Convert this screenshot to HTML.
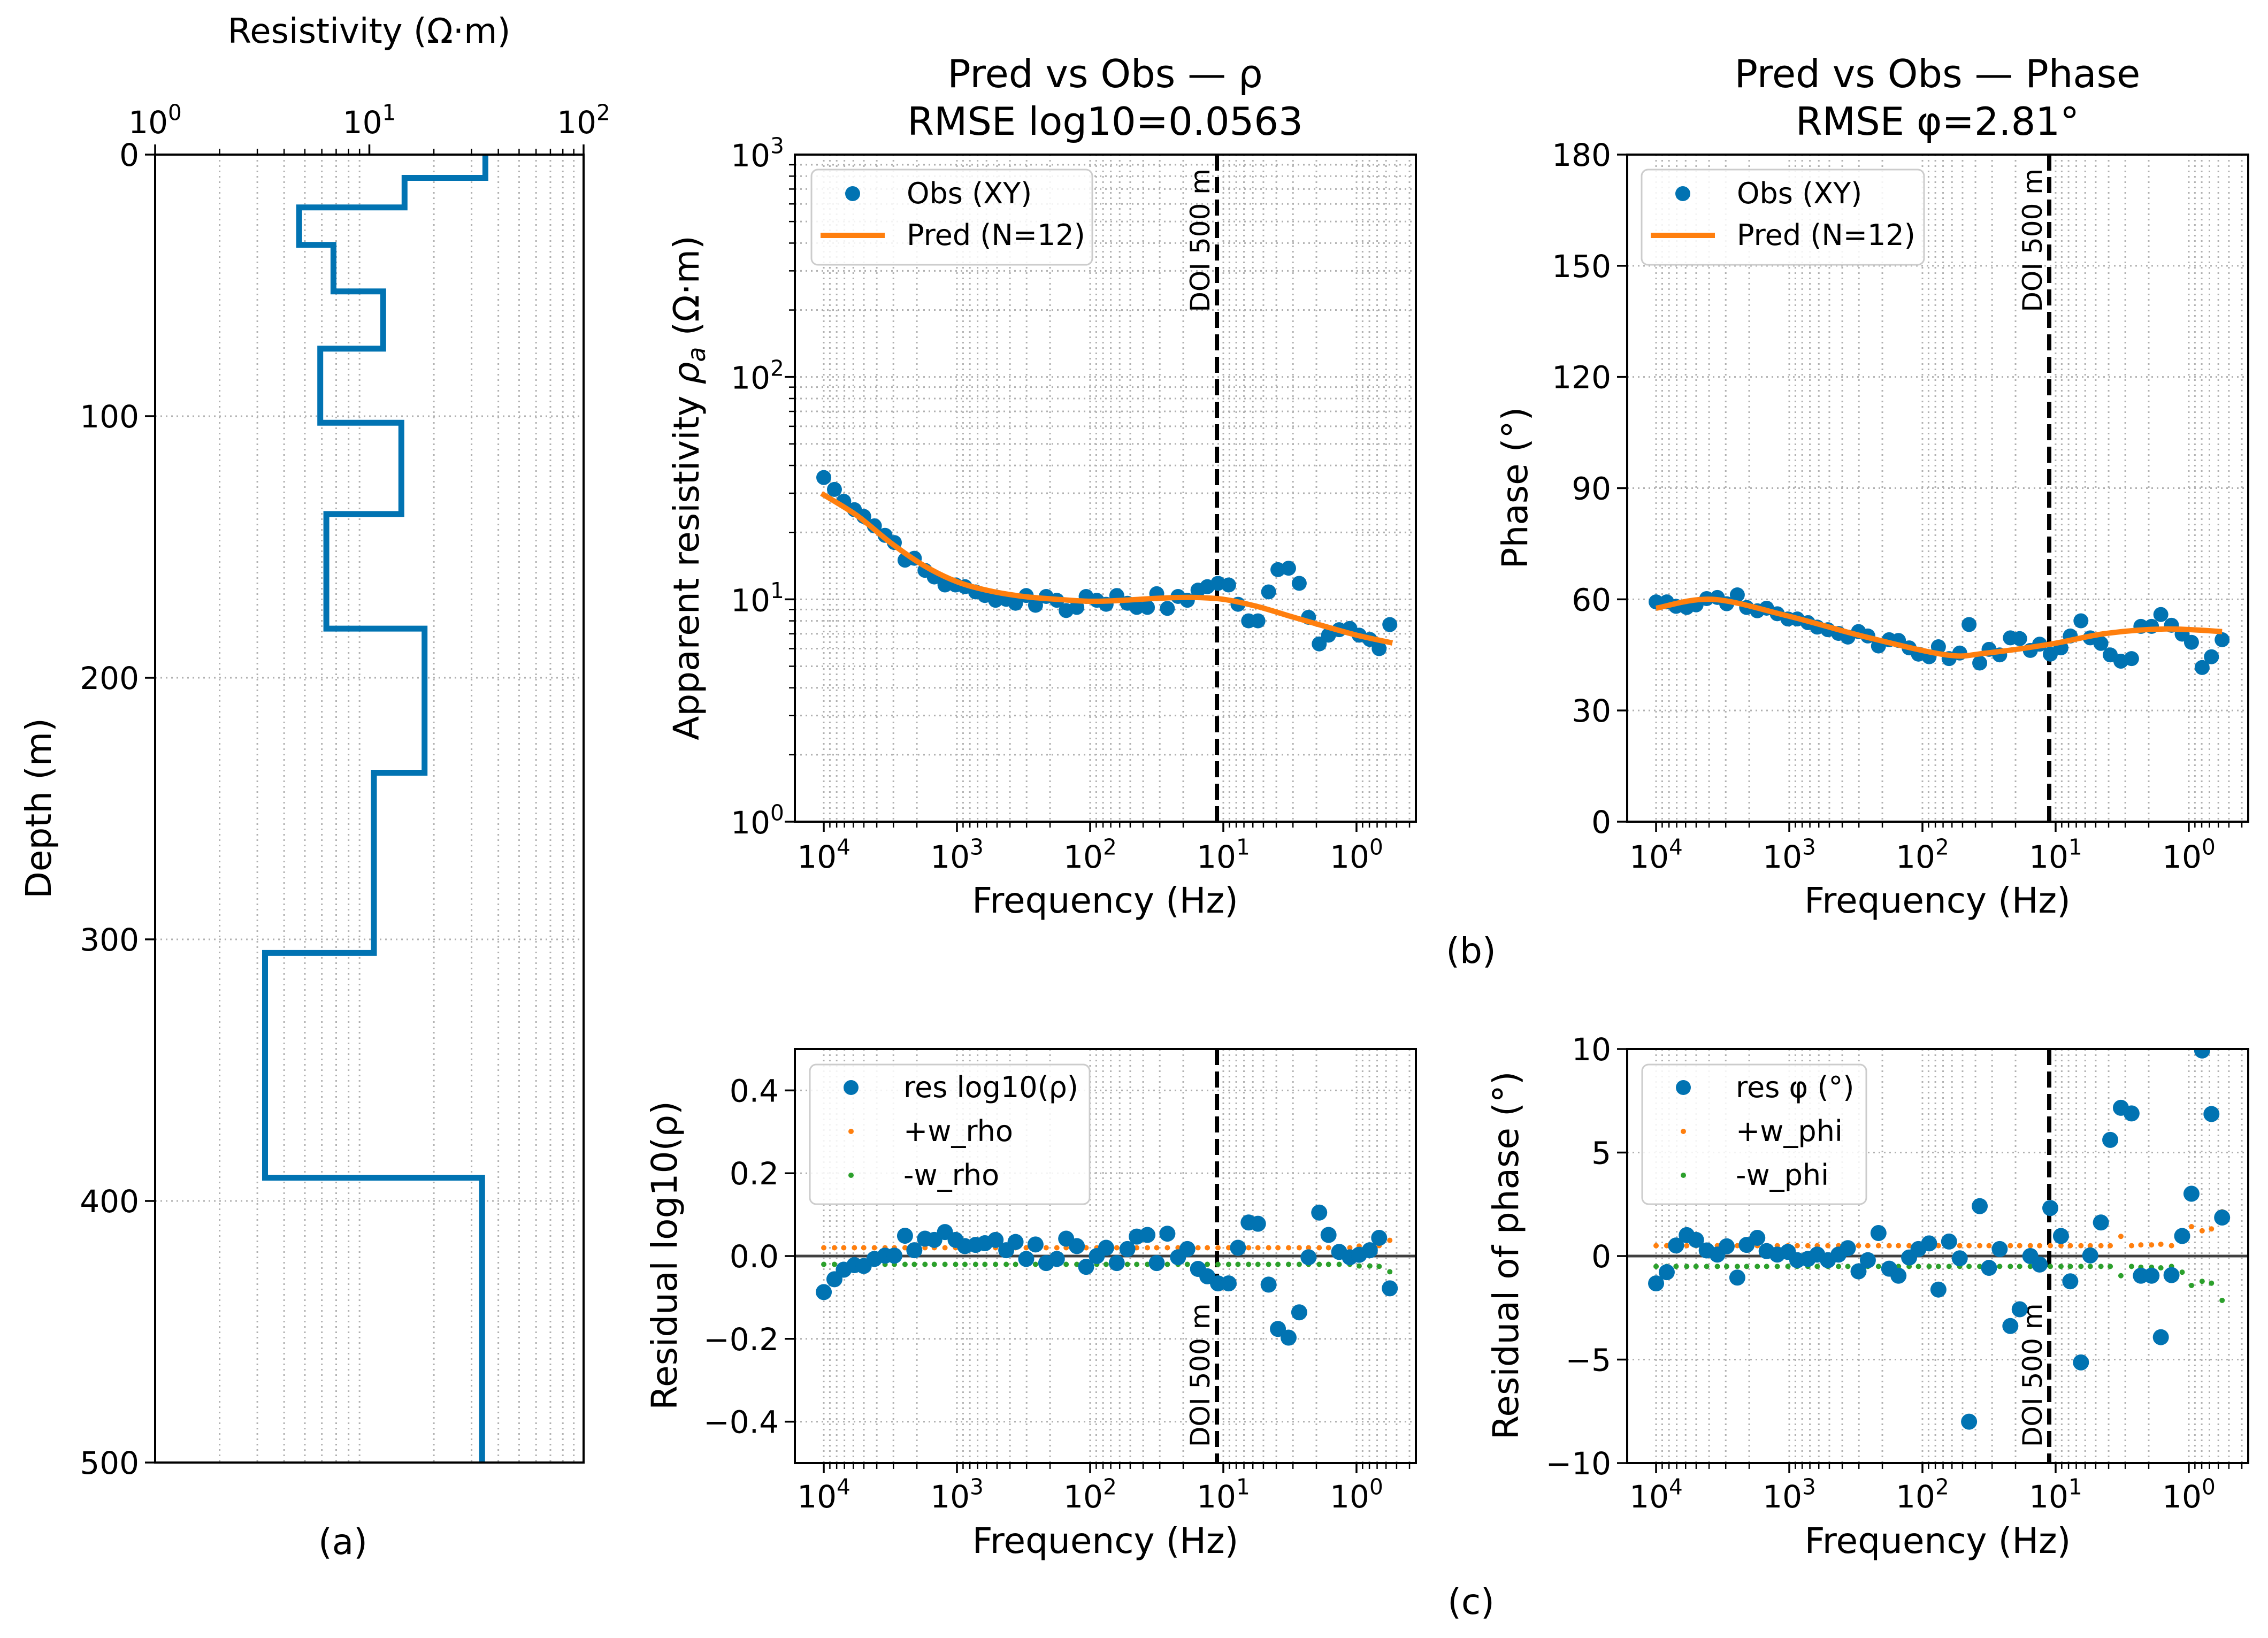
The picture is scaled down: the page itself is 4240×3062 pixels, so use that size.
<!DOCTYPE html>
<html><head><meta charset="utf-8">
<style>
html,body{margin:0;padding:0;background:#fff;}
svg{display:block;font-family:"DejaVu Sans","Liberation Sans",sans-serif;}
</style></head>
<body>
<svg id="fig" xmlns="http://www.w3.org/2000/svg" width="4240" height="3062" viewBox="0 0 4240 3062">
<rect x="0" y="0" width="4240" height="3062" fill="#fff"/>
</svg>
<script>
// ---------- DATA ----------
const logFreq=[4.00,3.92,3.85,3.77,3.70,3.62,3.54,3.47,3.39,3.32,3.24,3.17,3.09,3.01,2.94,2.86,2.79,2.71,2.63,2.56,2.48,2.41,2.33,2.25,2.18,2.10,2.03,1.95,1.88,1.80,1.72,1.65,1.57,1.50,1.42,1.34,1.27,1.19,1.12,1.04,0.96,0.89,0.81,0.74,0.66,0.59,0.51,0.43,0.36,0.28,0.21,0.13,0.05,-0.02,-0.10,-0.17,-0.25];
const rhoObs=[35.3,31.2,27.6,25.3,23.6,21.4,19.4,18.0,15.0,15.3,13.5,12.6,11.6,11.6,11.4,10.8,10.4,9.9,10.0,9.6,10.4,9.4,10.3,9.9,8.9,9.2,10.3,9.9,9.5,10.4,9.6,9.2,9.2,10.6,9.1,10.3,9.9,11.0,11.4,11.8,11.6,9.5,8.0,8.0,10.8,13.6,13.8,11.8,8.3,6.3,6.9,7.3,7.4,6.9,6.6,6.0,7.7];
const rhoPredLogF=[4.0,3.75,3.5,3.25,3.0,2.75,2.5,2.25,2.0,1.75,1.5,1.25,1.0,0.75,0.5,0.25,0.0,-0.25];
const rhoPred=[29.5,23.8,18.0,14.2,12.0,10.9,10.3,10.0,9.8,9.9,10.1,10.2,10.0,9.3,8.4,7.6,6.9,6.4];
const phaseObs=[59.3,59.3,58.1,57.8,58.5,60.2,60.5,58.8,61.2,57.8,56.9,57.6,56.1,54.7,54.7,53.7,52.5,51.8,50.8,49.8,51.3,50.1,47.4,49.1,48.9,46.9,45.2,44.5,47.2,44.0,45.5,53.2,42.8,46.5,45.0,49.6,49.4,46.2,47.9,45.2,46.9,50.1,54.2,49.6,48.1,45.0,43.3,44.0,52.7,52.7,55.9,53.0,50.6,48.4,41.6,44.5,49.1];
const phasePredLogF=[4.0,3.58,3.02,2.42,1.82,1.52,1.04,0.62,0.17,-0.25];
const phasePred=[57.6,60.0,55.6,49.8,45.0,45.5,47.9,50.8,52.0,51.3];
const resRho=[-0.087,-0.056,-0.033,-0.022,-0.024,-0.007,0.001,0.001,0.049,0.014,0.042,0.039,0.058,0.039,0.024,0.027,0.031,0.039,0.014,0.034,-0.007,0.028,-0.017,-0.007,0.042,0.024,-0.026,0.0,0.020,-0.017,0.017,0.047,0.051,-0.017,0.054,-0.003,0.017,-0.031,-0.049,-0.066,-0.066,0.020,0.081,0.078,-0.069,-0.176,-0.197,-0.136,-0.003,0.105,0.051,0.010,-0.003,0.003,0.014,0.044,-0.078];
const wRho=[0.02,0.02,0.02,0.02,0.02,0.02,0.02,0.02,0.02,0.02,0.02,0.02,0.02,0.02,0.02,0.02,0.02,0.02,0.02,0.02,0.02,0.02,0.02,0.02,0.02,0.02,0.02,0.02,0.02,0.02,0.02,0.02,0.02,0.02,0.02,0.02,0.02,0.02,0.02,0.02,0.02,0.02,0.02,0.02,0.02,0.02,0.02,0.02,0.02,0.02,0.02,0.02,0.02,0.024,0.024,0.025,0.038];
const resPhi=[-1.32,-0.78,0.51,1.01,0.78,0.27,0.07,0.47,-1.04,0.54,0.88,0.24,0.07,0.20,-0.20,-0.14,0.07,-0.20,0.07,0.38,-0.74,-0.20,1.11,-0.61,-0.95,-0.07,0.34,0.61,-1.62,0.70,-0.11,-8.0,2.41,-0.57,0.34,-3.38,-2.57,0.0,-0.41,2.32,0.97,-1.22,-5.14,0.03,1.62,5.61,7.16,6.89,-0.95,-0.95,-3.92,-0.92,0.97,3.01,9.93,6.86,1.86];
const wPhi=[0.5,0.5,0.5,0.5,0.5,0.5,0.5,0.5,0.5,0.5,0.5,0.5,0.5,0.5,0.5,0.5,0.5,0.5,0.5,0.5,0.5,0.5,0.5,0.5,0.5,0.5,0.5,0.5,0.5,0.5,0.5,0.5,0.5,0.5,0.5,0.5,0.5,0.5,0.5,0.5,0.5,0.5,0.5,0.5,0.5,0.5,0.95,0.5,0.54,0.54,0.57,0.5,0.78,1.42,1.22,1.31,2.14];
const layerBottom=[8.9,20.2,34.5,52.3,74.2,102.5,137.4,181.2,236.3,305.2,391.1,500];
const layerRho=[34.8,14.6,4.7,6.8,11.6,5.9,14.1,6.3,18.1,10.5,3.26,33.6];
const doiLogF=1.048;
const freqTicks=[4,3,2,1,0];
const rhoTicks=[0,1,2,3];
const phaseTicks=[0,30,60,90,120,150,180];
const resRhoTicks=[-0.4,-0.2,0.0,0.2,0.4];
const resRhoTickLabels=["\u22120.4","\u22120.2","0.0","0.2","0.4"];
const resPhiTicks=[-10,-5,0,5,10];
const resPhiTickLabels=["\u221210","\u22125","0","5","10"];
const depthTicks=[0,100,200,300,400,500];
const resTicksA=[0,1,2];

// ---------- HELPERS ----------
const NS="http://www.w3.org/2000/svg";
const svg=document.getElementById('fig');
const BLUE="#0173b2", ORANGE="#ff7f0e", GREEN="#2ca02c";
function el(tag,attrs,parent){const e=document.createElementNS(NS,tag);for(const k in attrs)e.setAttribute(k,attrs[k]);(parent||svg).appendChild(e);return e;}
function grp(name){const g=el('g',{});return g;}
function text(g,x,y,s,size,anchor,name,rot){
  const t=el('text',{x:x,y:y,'font-size':size,'text-anchor':anchor||'middle',fill:'#000'},g);
  if(rot)t.setAttribute('transform','rotate('+rot+' '+x+' '+y+')');
  t.textContent=s;
  
  
  return t;}
function powText(g,x,y,exp,size,name){
  const t=el('text',{x:x,y:y,'font-size':size,'text-anchor':'middle',fill:'#000'},g);
  const a=el('tspan',{},t);a.textContent='10';
  const b=el('tspan',{dy:-size*0.42,'font-size':size*0.7},t);b.textContent=String(exp);
  
  
  return t;}
const GRID={stroke:'#b0b0b0','stroke-width':3,'stroke-dasharray':'3 7',fill:'none'};
function line(g,x1,y1,x2,y2,attrs){const a=Object.assign({x1:x1,y1:y1,x2:x2,y2:y2},attrs);return el('line',a,g);}

function freqAxis(x0,x1){const lmax=4.217,lmin=-0.446;return lf=>x0+(lmax-lf)/(lmax-lmin)*(x1-x0);}
function linAxis(p0,p1,v0,v1){return v=>p0+(v-v0)/(v1-v0)*(p1-p0);}

function smoothPath(pts){
  let d='M'+pts[0][0].toFixed(1)+','+pts[0][1].toFixed(1);
  for(let i=0;i<pts.length-1;i++){
    const p0=pts[Math.max(0,i-1)],p1=pts[i],p2=pts[i+1],p3=pts[Math.min(pts.length-1,i+2)];
    const c1=[p1[0]+(p2[0]-p0[0])/6,p1[1]+(p2[1]-p0[1])/6];
    const c2=[p2[0]-(p3[0]-p1[0])/6,p2[1]-(p3[1]-p1[1])/6];
    d+=' C'+c1[0].toFixed(1)+','+c1[1].toFixed(1)+' '+c2[0].toFixed(1)+','+c2[1].toFixed(1)+' '+p2[0].toFixed(1)+','+p2[1].toFixed(1);
  }
  return d;}

function drawFreqX(g,X,top,bot,labelY,prefix){
  for(let d=-1;d<=4;d++){
    for(let m=1;m<=9;m++){
      const lf=d+Math.log10(m);
      const x=X(lf);
      if(x<X(4.217)-0.5||x>X(-0.446)+0.5)continue;
      line(g,x,top,x,bot,GRID);
      const len=m===1?19:11;
      line(g,x,bot,x,bot+len,{stroke:'#000','stroke-width':m===1?3.5:2.5});
    }
  }
  freqTicks.forEach(v=>powText(g,X(v),labelY,v,58,prefix+'-xtick-'+v));
}
function frame(g,x0,y0,x1,y1,name){
  const r=el('rect',{x:x0,y:y0,width:x1-x0,height:y1-y0,fill:'none',stroke:'#000','stroke-width':4},g);
  
  }
function doi(g,X,top,bot,textTop,name){
  const x=X(doiLogF);
  const l=line(g,x,top,x,bot,{stroke:'#000','stroke-width':8,'stroke-dasharray':'30 12'});
  
  
  let tx=x-14, ty;
  if(textTop){ty=top+26;text(g,tx,ty,'DOI 500 m',50,'end',name+'-doi-label',-90);}
  else{ty=bot-30;text(g,tx,ty,'DOI 500 m',50,'start',name+'-doi-label',-90);}
}
function legend(g,x0,y0,x1,y1,entries,name){
  const lg=el('g',{},g);
  
  
  el('rect',{x:x0,y:y0,width:x1-x0,height:y1-y0,rx:12,fill:'#fff','fill-opacity':0.85,stroke:'#cccccc','stroke-width':3},lg);
  entries.forEach(e=>{
    const cx=x0+77;
    if(e.type==='dot'){const c=el('circle',{cx:cx,cy:e.y-18,r:e.r,fill:e.color},lg);}
    else{const l=line(lg,x0+17,e.y-18,x0+137,e.y-18,{stroke:e.color,'stroke-width':10});}
    text(lg,x0+e.tx,e.y,e.label,54,'start',e.name+'-label');
  });
}

// ---------- PANEL A ----------
(function(){
  const g=grp('panel-a-resistivity-profile');
  const x0=290,x1=1091,y0=289,y1=2734;
  const X=lr=>x0+(lr-0)/(2-0)*(x1-x0);
  const Y=linAxis(y0,y1,0,500);
  for(let d=0;d<2;d++)for(let m=1;m<=9;m++){const x=X(d+Math.log10(m));if(m>1)line(g,x,y0,x,y1,GRID);line(g,x,y0,x,y0-(m===1?19:11),{stroke:'#000','stroke-width':m===1?3.5:2.5});}
  line(g,X(2),y0,X(2),y0-19,{stroke:'#000','stroke-width':3.5});
  depthTicks.forEach(v=>{const y=Y(v);if(v>0&&v<500)line(g,x0,y,x1,y,GRID);line(g,x0,y,x0-19,y,{stroke:'#000','stroke-width':3.5});
    text(g,x0-30,y+21,String(v),58,'end','depth-tick-'+v);});
  resTicksA.forEach(v=>powText(g,X(v),y0-40,v,58,'resistivity-tick-'+v));
  let d='',top=0;
  layerRho.forEach((r,i)=>{const x=X(Math.log10(r));d+=(i===0?'M':'L')+x.toFixed(1)+','+Y(top).toFixed(1)+' L'+x.toFixed(1)+','+Y(layerBottom[i]).toFixed(1)+' ';top=layerBottom[i];});
  const p=el('path',{d:d,fill:'none',stroke:BLUE,'stroke-width':11,'stroke-linejoin':'miter'},g);
  
  
  frame(g,x0,y0,x1,y1,'panel-a-frame');
  text(g,690,80,'Resistivity (\u03A9\u00B7m)',64,'middle','x-axis-title-resistivity');
  text(g,95,1511,'Depth (m)',66,'middle','y-axis-title-depth',-90);
  text(g,641,2905,'(a)',66,'middle','panel-label-a');
})();

// ---------- PANEL B1 ----------
(function(){
  const g=grp('panel-b-apparent-resistivity');
  const x0=1486,x1=2647,y0=289,y1=1536;
  const X=freqAxis(x0,x1);
  const Y=lr=>y1-(lr-0)/3*(y1-y0);
  for(let d=0;d<3;d++)for(let m=1;m<=9;m++){const y=Y(d+Math.log10(m));if(m>1)line(g,x0,y,x1,y,GRID);line(g,x0,y,x0-(m===1?19:11),y,{stroke:'#000','stroke-width':m===1?3.5:2.5});}
  [1,2].forEach(v=>line(g,x0,Y(v),x1,Y(v),GRID));
  rhoTicks.forEach(v=>powText(g,x0-70,Y(v)+22,v,58,'rho-ytick-'+v));
  drawFreqX(g,X,y0,y1,1622,'b1');
  doi(g,X,y0,y1,true,'b1');
  const dg=el('g',{},g);
  rhoObs.forEach((v,i)=>{const c=el('circle',{cx:X(logFreq[i]),cy:Y(Math.log10(v)),r:14,fill:BLUE},dg);
    
    });
  const pts=rhoPred.map((v,i)=>[X(rhoPredLogF[i]),Y(Math.log10(v))]);
  const p=el('path',{d:smoothPath(pts),fill:'none',stroke:ORANGE,'stroke-width':10,'stroke-linecap':'square'},g);
  
  
  frame(g,x0,y0,x1,y1,'panel-b1-frame');
  legend(g,1517,317,2042,495,[
    {type:'dot',r:14,color:BLUE,label:'Obs (XY)',y:380,tx:178,name:'legend-obs'},
    {type:'line',color:ORANGE,label:'Pred (N=12)',y:458,tx:178,name:'legend-pred'}],'legend-b1');
  text(g,2066,163,'Pred vs Obs \u2014 \u03C1',72,'middle','title-b1-line1');
  text(g,2066,252,'RMSE log10=0.0563',72,'middle','title-b1-line2');
  const yl=el('text',{x:1306,y:912,'font-size':66,'text-anchor':'middle',transform:'rotate(-90 1306 912)'},g);
  
  
  yl.appendChild(document.createTextNode('Apparent resistivity '));
  const r1=el('tspan',{'font-style':'italic'},yl);r1.textContent='\u03C1';
  const r2=el('tspan',{'font-style':'italic','font-size':46,dy:12},yl);r2.textContent='a';
  const r3=el('tspan',{dy:-12},yl);r3.textContent=' (\u03A9\u00B7m)';
  text(g,2066,1706,'Frequency (Hz)',66,'middle','x-axis-title-b1');
})();

// ---------- PANEL B2 ----------
(function(){
  const g=grp('panel-b-phase');
  const x0=3042,x1=4203,y0=289,y1=1536;
  const X=freqAxis(x0,x1);
  const Y=linAxis(y1,y0,0,180);
  phaseTicks.forEach(v=>{const y=Y(v);if(v>0&&v<180)line(g,x0,y,x1,y,GRID);line(g,x0,y,x0-19,y,{stroke:'#000','stroke-width':3.5});
    text(g,x0-30,y+21,String(v),58,'end','phase-ytick-'+v);});
  drawFreqX(g,X,y0,y1,1622,'b2');
  doi(g,X,y0,y1,true,'b2');
  const dg=el('g',{},g);
  phaseObs.forEach((v,i)=>{const c=el('circle',{cx:X(logFreq[i]),cy:Y(v),r:14,fill:BLUE},dg);
    
    });
  const pts=phasePred.map((v,i)=>[X(phasePredLogF[i]),Y(v)]);
  const p=el('path',{d:smoothPath(pts),fill:'none',stroke:ORANGE,'stroke-width':10},g);
  
  
  frame(g,x0,y0,x1,y1,'panel-b2-frame');
  legend(g,3069,317,3597,495,[
    {type:'dot',r:14,color:BLUE,label:'Obs (XY)',y:380,tx:178,name:'legend-obs-phase'},
    {type:'line',color:ORANGE,label:'Pred (N=12)',y:458,tx:178,name:'legend-pred-phase'}],'legend-b2');
  text(g,3622,163,'Pred vs Obs \u2014 Phase',72,'middle','title-b2-line1');
  text(g,3622,252,'RMSE \u03C6=2.81\u00B0',72,'middle','title-b2-line2');
  text(g,2855,912,'Phase (\u00B0)',66,'middle','y-axis-title-phase',-90);
  text(g,3622,1706,'Frequency (Hz)',66,'middle','x-axis-title-b2');
  text(g,2750,1800,'(b)',66,'middle','panel-label-b');
})();

// ---------- PANELS C ----------
function residualPanel(name,x0,x1,vmin,vmax,ticks,tickLabels,res,w,ylabel,ylabelX,legendX1,legLabels){
  const g=grp(name);
  const y0=1961,y1=2735;
  const X=freqAxis(x0,x1);
  const Y=linAxis(y1,y0,vmin,vmax);
  ticks.forEach((v,i)=>{const y=Y(v);line(g,x0,y,x1,y,GRID);line(g,x0,y,x0-19,y,{stroke:'#000','stroke-width':3.5});
    text(g,x0-30,y+21,tickLabels[i],58,'end',name+'-ytick-'+i);});
  drawFreqX(g,X,y0,y1,2818,name);
  const z=line(g,x0,Y(0),x1,Y(0),{stroke:'#404040','stroke-width':5});
  
  
  doi(g,X,y0,y1,false,name);
  const pg=el('g',{},g);
  const mg=el('g',{},g);
  w.forEach((v,i)=>{
    const a=el('circle',{cx:X(logFreq[i]),cy:Y(v),r:5,fill:ORANGE},pg);
    
    
    const b=el('circle',{cx:X(logFreq[i]),cy:Y(-v),r:5,fill:GREEN},mg);
    
    
  });
  const rg=el('g',{},g);
  res.forEach((v,i)=>{const c=el('circle',{cx:X(logFreq[i]),cy:Y(v),r:15,fill:BLUE},rg);
    
    });
  const cp=el('clipPath',{id:name+'-clip'},g);el('rect',{x:x0,y:y0,width:x1-x0,height:y1-y0},cp);
  rg.setAttribute('clip-path','url(#'+name+'-clip)');
  frame(g,x0,y0,x1,y1,name+'-frame');
  legend(g,x0+28,1990,legendX1,2251,[
    {type:'dot',r:14,color:BLUE,label:legLabels[0],y:2051,tx:175,name:name+'-legend-res'},
    {type:'dot',r:5,color:ORANGE,label:legLabels[1],y:2133,tx:175,name:name+'-legend-plus-w'},
    {type:'dot',r:5,color:GREEN,label:legLabels[2],y:2215,tx:175,name:name+'-legend-minus-w'}],name+'-legend');
  text(g,ylabelX,2347,ylabel,66,'middle',name+'-y-axis-title',-90);
  text(g,(x0+x1)/2,2903,'Frequency (Hz)',66,'middle',name+'-x-axis-title');
}
residualPanel('panel-c-residual-rho',1486,2647,-0.5,0.5,resRhoTicks,resRhoTickLabels,resRho,wRho,'Residual log10(\u03C1)',1265,2037,['res log10(\u03C1)','+w_rho','-w_rho']);
residualPanel('panel-c-residual-phase',3042,4203,-10,10,resPhiTicks,resPhiTickLabels,resPhi,wPhi,'Residual of phase (\u00B0)',2838,3489,['res \u03C6 (\u00B0)','+w_phi','-w_phi']);
text(svg,2750,3017,'(c)',66,'middle','panel-label-c');
</script>
</body></html>
